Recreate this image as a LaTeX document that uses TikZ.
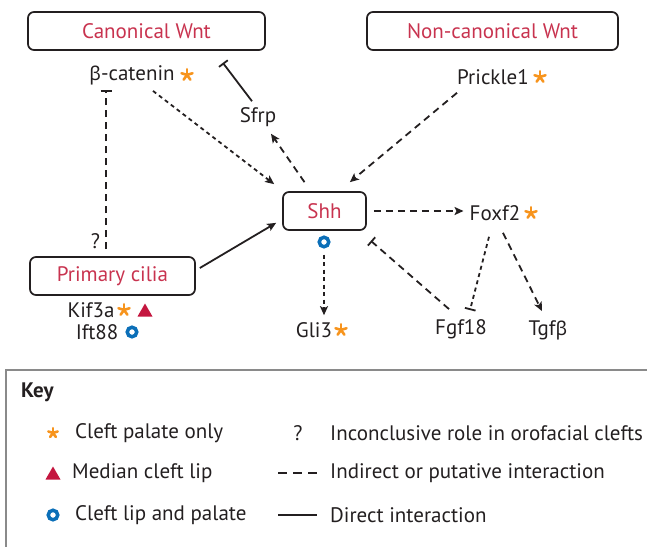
\documentclass[tikz,border=0pt]{standalone}
\usepackage{fontspec}
\setmainfont{PT Sans}
\newfontfamily\grk{Noto Sans}
\usetikzlibrary{arrows.meta,positioning}

\definecolor{wntred}{HTML}{C8334F}
\definecolor{astorange}{HTML}{F7941D}
\definecolor{ringblue}{HTML}{0B6FB8}
\definecolor{trired}{HTML}{C4163F}
\definecolor{ink}{HTML}{231F20}
\definecolor{keygray}{HTML}{8A8A8A}

\newcommand{\txtsize}{\fontsize{21}{24}\selectfont}
\newcommand{\bet}{{\grk\fontsize{19}{24}\selectfont β}}

\tikzset{
  box/.style={draw=ink, line width=1.7pt, rounded corners=6pt, text=wntred,
    font=\txtsize, minimum height=38pt, inner sep=0pt},
  gene/.style={text=ink, font=\txtsize, inner sep=1pt},
  dsh/.style={ink, line width=1.8pt, dash pattern=on 7pt off 5pt},
  dshs/.style={ink, line width=1.8pt, dash pattern=on 4pt off 3.5pt},
  sol/.style={ink, line width=1.8pt},
  act/.style={-{Stealth[length=9pt,width=8pt,inset=2pt]}},
  inh/.style={-{Bar[width=11pt,line width=1.8pt]}},
  cpo/.pic={\foreach \a in {90,162,234,306,18}
      \draw[astorange, line width=2.6pt, line cap=round] (0,0) -- (\a:5.8pt);},
  mcl/.pic={\fill[trired] (-7.5pt,-6.5pt) -- (7.5pt,-6.5pt) -- (0,6.5pt) -- cycle;},
  clp/.style={circle, draw=ringblue, line width=3.5pt, minimum size=9.5pt, inner sep=0pt},
}

\begin{document}
\begin{tikzpicture}[x=1pt, y=-1pt]
  \useasboundingbox (0,0) rectangle (647,546);

  % pathway boxes
  \node[box, minimum width=237pt] (canon) at (146.5,31) {Canonical Wnt};
  \node[box, minimum width=251pt] (noncanon) at (492.5,31) {Non-canonical Wnt};
  \node[box, minimum width=83pt] (shh) at (324.5,211) {Shh};
  \node[box, minimum width=165pt] (cilia) at (112.5,276) {Primary cilia};

  % genes
  \node[gene] (bcat) at (132,75) {\bet-catenin};
  \node[gene] (sfrp) at (258,117) {Sfrp};
  \node[gene] (prickle) at (493,77) {Prickle1};
  \node[gene] (foxf2) at (495,213) {Foxf2};
  \node[gene] (kif) at (91,310) {Kif3a};
  \node[gene] (ift) at (97,332) {Ift88};
  \node[gene] (gli) at (314,330) {Gli3};
  \node[gene] (fgf) at (461,329) {Fgf18};
  \node[gene] (tgfb) at (548,330) {Tgf\bet};

  % phenotype marks
  \pic at (187,75) {cpo};
  \pic at (540,77) {cpo};
  \pic at (531,213) {cpo};
  \pic at (124,310) {cpo};
  \pic at (341,330) {cpo};
  \pic at (145,310) {mcl};
  \node[clp] (iftring) at (132,332) {};
  \node[clp] (shhring) at (324,242) {};

  % interactions
  \draw[dsh, inh] ([xshift=-6.5pt, yshift=7pt]cilia.north)
    -- node[pos=0.05, left=4pt, gene] {?}
    ([xshift=-6.5pt, yshift=-4pt]cilia.north |- bcat.south);
  \draw[dshs, act] ([shift={(21,5)}]bcat.south) -- ([shift={(-8,-7)}]shh.north west);
  \draw[dsh, act] ([shift={(-20,-9)}]shh.north) -- ([shift={(13,6)}]sfrp.south);
  \draw[sol, inh] ([shift={(-6,-5)}]sfrp.north) -- ([shift={(-43,12)}]canon.south east);
  \draw[dsh, act] ([shift={(1,7)}]prickle.south west) -- ([shift={(-17,-9)}]shh.north east);
  \draw[dsh, act] ([xshift=7pt]shh.east) -- ([xshift=-5pt]shh.east -| foxf2.west);
  \draw[sol, act] ([shift={(4,-8)}]cilia.east) -- ([shift={(-6,-8)}]shh.south west);
  \draw[dshs, act] ([yshift=-6pt]shhring.south) -- ([yshift=6pt]shhring.south |- gli.north);
  \draw[dsh, inh] ([shift={(-12,-9)}]fgf.north) -- ([shift={(4,10)}]shh.south east);
  \draw[dshs, inh] ([shift={(-6,15)}]foxf2.south) -- ([shift={(9,-8)}]fgf.north);
  \draw[dsh, act] ([shift={(8,11)}]foxf2.south) -- ([shift={(-6,-8)}]tgfb.north);

  % key
  \draw[keygray, line width=1.4pt] (6,370) rectangle (680,580);
  \node[gene, anchor=west, font=\txtsize\bfseries] (key) at (20,392) {Key};
  \pic[scale=0.85] at (53,433) {cpo};
  \node[gene, anchor=west] (kcpo) at (74,433) {Cleft palate only};
  \pic at (53,473) {mcl};
  \node[gene, anchor=west] (kmcl) at (71,473) {Median cleft lip};
  \node[clp] (kring) at (53,515) {};
  \node[gene, anchor=west] (kclp) at (74,515) {Cleft lip and palate};
  \node[gene] (kq) at (298,433) {?};
  \node[gene, anchor=west] (kinc) at (329,433) {Inconclusive role in orofacial clefts};
  \node[gene, anchor=west] (kind) at (329,473) {Indirect or putative interaction};
  \node[gene, anchor=west] (kdir) at (329,515) {Direct interaction};
  \draw[ink, line width=1.9pt, dash pattern=on 9pt off 6pt] ([xshift=-51pt]kind.west) -- ([xshift=-12pt]kind.west);
  \draw[ink, line width=1.9pt] ([xshift=-51pt]kdir.west) -- ([xshift=-12pt]kdir.west);
\end{tikzpicture}
\end{document}
